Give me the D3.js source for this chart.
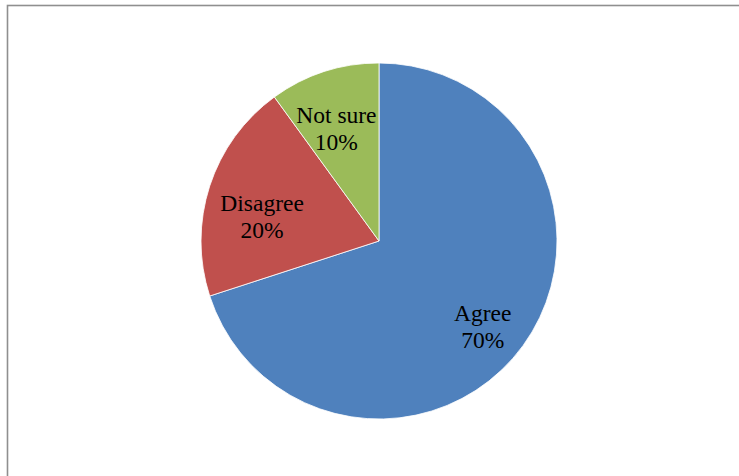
<!DOCTYPE html>
<html>
<head>
<meta charset="utf-8">
<script src="https://cdn.jsdelivr.net/npm/d3@7"></script>
<style>
  html, body { margin: 0; padding: 0; background: #fff; }
  svg { display: block; }
</style>
</head>
<body>
<svg id="chart" width="739" height="476"></svg>
<script>
// ---- data ----
const categories = ["Agree", "Disagree", "Not sure"];
const values = [70, 20, 10];
const percentLabels = ["70%", "20%", "10%"];
const colors = ["#4F81BD", "#C0504D", "#9BBB59"];

// ---- layout ----
const W = 739, H = 476;
const cx = 379, cy = 241, R = 178;
const labelRadiusFrac = 0.72;
const labelNudge = [[0, 11], [5, 16], [-3, 10]];

const svg = d3.select("#chart");

// chart area frame (extends beyond right/bottom of the window)
svg.append("rect")
  .attr("x", 7.5).attr("y", 5.5)
  .attr("width", W + 20).attr("height", H + 20)
  .attr("fill", "none")
  .attr("stroke", "#8f8f8f")
  .attr("stroke-width", 1.6);

const data = categories.map((c, i) => ({ cat: c, value: values[i], pct: percentLabels[i], color: colors[i], idx: i }));

const pie = d3.pie().value(d => d.value).sort(null);
const arcs = pie(data);
const arc = d3.arc().innerRadius(0).outerRadius(R);
const labelArc = d3.arc().innerRadius(R * labelRadiusFrac).outerRadius(R * labelRadiusFrac);

const g = svg.append("g").attr("transform", `translate(${cx},${cy})`);

g.selectAll("path.slice")
  .data(arcs)
  .join("path")
  .attr("class", "slice")
  .attr("d", arc)
  .attr("fill", d => d.data.color)
  .attr("stroke", "#ffffff")
  .attr("stroke-width", 0.8)
  .attr("stroke-linejoin", "round");

const lbl = g.selectAll("text.lbl")
  .data(arcs)
  .join("text")
  .attr("class", "lbl")
  .attr("transform", d => {
    const [x, y] = labelArc.centroid(d);
    const n = labelNudge[d.data.idx];
    return `translate(${x + n[0]},${y + n[1]})`;
  })
  .attr("text-anchor", "middle")
  .attr("font-family", "'Liberation Serif', 'Times New Roman', serif")
  .attr("font-size", "23.5px")
  .attr("fill", "#000");

lbl.append("tspan").attr("x", 0).attr("y", -6).text(d => d.data.cat);
lbl.append("tspan").attr("x", 0).attr("y", 21).text(d => d.data.pct);
</script>
</body>
</html>
